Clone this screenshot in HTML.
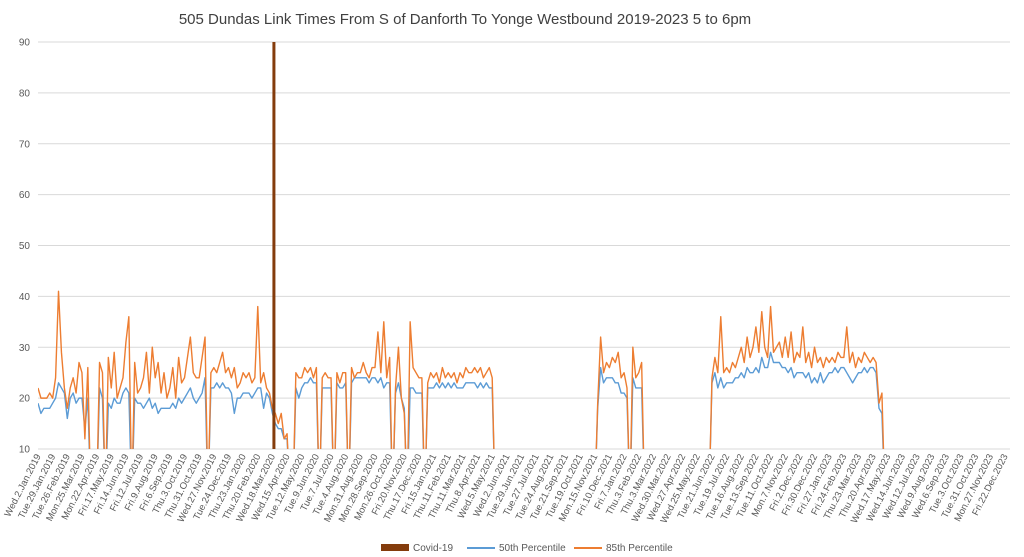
<!DOCTYPE html>
<html><head><meta charset="utf-8"><style>
body{margin:0;background:#fff;}
svg{display:block;font-family:"Liberation Sans",sans-serif;}
</style></head><body>
<svg id="chart" width="1024" height="557" viewBox="0 0 1024 557">
<text x="465" y="24" text-anchor="middle" font-size="15" fill="#404040">505 Dundas Link Times From S of Danforth To Yonge Westbound 2019-2023 5 to 6pm</text>
<defs><clipPath id="plotclip"><rect x="38" y="42" width="972" height="407"/></clipPath></defs>
<g id="grid"></g><g id="yticks"></g><g id="xticks"></g>
<g id="series" clip-path="url(#plotclip)"></g>
<g>
<rect x="381" y="544" width="28" height="7" fill="#843c0c"/>
<text x="413" y="551" font-size="10" fill="#595959">Covid-19</text>
<line x1="467" y1="548" x2="495" y2="548" stroke="#5b9bd5" stroke-width="2"/>
<text x="499" y="551" font-size="10" fill="#595959">50th Percentile</text>
<line x1="574" y1="548" x2="602" y2="548" stroke="#ed7d31" stroke-width="2"/>
<text x="606" y="551" font-size="10" fill="#595959">85th Percentile</text>
</g>
</svg>
<script>
const tickLabels=["Wed.2.Jan.2019","Tue.29.Jan.2019","Tue.26.Feb.2019","Mon.25.Mar.2019","Mon.22.Apr.2019","Fri.17.May.2019","Fri.14.Jun.2019","Fri.12.Jul.2019","Fri.9.Aug.2019","Fri.6.Sep.2019","Thu.3.Oct.2019","Thu.31.Oct.2019","Wed.27.Nov.2019","Tue.24.Dec.2019","Thu.23.Jan.2020","Thu.20.Feb.2020","Wed.18.Mar.2020","Wed.15.Apr.2020","Tue.12.May.2020","Tue.9.Jun.2020","Tue.7.Jul.2020","Tue.4.Aug.2020","Mon.31.Aug.2020","Mon.28.Sep.2020","Mon.26.Oct.2020","Fri.20.Nov.2020","Thu.17.Dec.2020","Fri.15.Jan.2021","Thu.11.Feb.2021","Thu.11.Mar.2021","Thu.8.Apr.2021","Wed.5.May.2021","Wed.2.Jun.2021","Tue.29.Jun.2021","Tue.27.Jul.2021","Tue.24.Aug.2021","Tue.21.Sep.2021","Tue.19.Oct.2021","Mon.15.Nov.2021","Fri.10.Dec.2021","Fri.7.Jan.2022","Thu.3.Feb.2022","Thu.3.Mar.2022","Wed.30.Mar.2022","Wed.27.Apr.2022","Wed.25.May.2022","Tue.21.Jun.2022","Tue.19.Jul.2022","Tue.16.Aug.2022","Tue.13.Sep.2022","Tue.11.Oct.2022","Mon.7.Nov.2022","Fri.2.Dec.2022","Fri.30.Dec.2022","Fri.27.Jan.2023","Fri.24.Feb.2023","Thu.23.Mar.2023","Thu.20.Apr.2023","Wed.17.May.2023","Wed.14.Jun.2023","Wed.12.Jul.2023","Wed.9.Aug.2023","Wed.6.Sep.2023","Tue.3.Oct.2023","Tue.31.Oct.2023","Mon.27.Nov.2023","Fri.22.Dec.2023"];
const yTicks=[10,20,30,40,50,60,70,80,90];
const covidIndex=16;
const p85=[
22,20,20,20,21, 20,24,41,29,22, 18,22,24,21,27, 25,12,26,0,0, 0,27,25,0,28,
22,29,20,22,24, 31,36,0,27,21, 22,24,29,21,30, 24,27,21,25,20, 22,26,20,28,23,
24,28,32,25,24, 24,28,32,0,25, 26,25,27,29,25, 26,24,26,22,23, 25,24,25,23,24,
38,23,25,22,21, 18,17,15,17,12, 13,0,0,25,24, 24,26,25,26,24, 26,0,24,25,24,
24,0,25,23,25, 25,0,26,24,25, 25,27,25,24,26, 26,33,25,35,24, 28,0,22,30,20,
17,0,35,26,25, 24,24,0,23,25, 24,25,23,26,24, 25,24,25,23,25, 24,26,25,25,26,
25,26,24,25,26, 24,0,0,0,0, 0,0,0,0,0, 0,0,0,0,0, 0,0,0,0,0,
0,0,0,0,0, 0,0,0,0,0, 0,0,0,0,0, 0,19,32,25,27, 26,28,27,29,24,
25,22,0,30,24, 25,27,0,0,0, 0,0,0,0,0, 0,0,0,0,0, 0,0,0,0,0,
0,0,0,0,0, 24,28,25,36,25, 26,25,27,26,28, 30,27,32,28,30, 34,29,37,30,28,
38,29,30,31,28, 32,28,33,27,29, 28,34,27,29,26, 30,27,28,26,28, 27,28,27,29,28,
28,34,27,29,26, 28,27,29,28,27, 28,27,19,21,0, 0,0,0,0,0, 0,0,0,0,0,
0,0,0,0,0, 0,0,0,0,0, 0,0,0,0,0, 0,0,0,0,0, 0,0,0,0,0, 0,0,0,0,0, 0];
const p50=[
19,17,18,18,18, 19,20,23,22,21, 16,20,21,19,20, 20,14,20,0,0, 0,22,20,0,19,
18,20,19,19,21, 22,21,0,20,19, 19,18,19,20,18, 19,17,18,18,18, 18,19,18,20,19,
20,21,22,20,19, 20,21,24,0,22, 22,23,22,23,22, 22,21,17,20,20, 21,21,21,20,21,
22,22,18,21,20, 17,15,14,14,12, 12,0,0,22,20, 22,23,23,24,23, 23,0,22,22,22,
22,0,23,22,22, 23,0,23,24,24, 24,24,24,23,24, 24,23,24,22,23, 23,0,21,23,20,
18,0,22,22,21, 21,21,0,22,22, 22,23,22,23,22, 23,22,23,22,22, 22,23,23,23,23,
22,23,22,23,22, 22,0,0,0,0, 0,0,0,0,0, 0,0,0,0,0, 0,0,0,0,0,
0,0,0,0,0, 0,0,0,0,0, 0,0,0,0,0, 0,18,26,23,24, 24,24,23,23,21,
21,20,0,24,22, 22,22,0,0,0, 0,0,0,0,0, 0,0,0,0,0, 0,0,0,0,0,
0,0,0,0,0, 23,25,22,24,22, 23,23,23,24,24, 25,24,26,25,25, 26,25,28,26,26,
29,27,27,27,26, 26,25,26,24,25, 25,25,24,25,23, 24,23,25,23,24, 25,25,26,25,26,
26,25,24,23,24, 25,25,26,25,26, 26,25,18,17,0, 0,0,0,0,0, 0,0,0,0,0,
0,0,0,0,0, 0,0,0,0,0, 0,0,0,0,0, 0,0,0,0,0, 0,0,0,0,0, 0,0,0,0,0, 0];

const NS="http://www.w3.org/2000/svg";
const X0=38,X1=1005,Y0=449,Y1=42,PTS_PER_LABEL=5;
function xLabel(i){return X0+i*(X1-X0)/(tickLabels.length-1);}
function xPt(i){return xLabel(i/PTS_PER_LABEL);}
function yVal(v){return Y0-(v-10)*(Y0-Y1)/80;}
function mk(tag,attrs,parent){const e=document.createElementNS(NS,tag);for(const k in attrs)e.setAttribute(k,attrs[k]);parent.appendChild(e);return e;}
const grid=document.getElementById('grid'),yt=document.getElementById('yticks'),xt=document.getElementById('xticks'),ser=document.getElementById('series');
yTicks.forEach(v=>{
  const l=mk('line',{x1:X0,x2:1010,y1:yVal(v),y2:yVal(v),stroke:'#d9d9d9','stroke-width':1},grid);
  
  
  const t=mk('text',{x:30,y:yVal(v)+3.5,'text-anchor':'end','font-size':10,fill:'#595959'},yt);
  t.textContent=v;
  
  
});
tickLabels.forEach((s,i)=>{
  const x=xLabel(i);
  const t=mk('text',{x:0,y:0,'text-anchor':'end','font-size':9.5,fill:'#595959',transform:`translate(${x+3},${Y0+7}) rotate(-63)`},xt);
  t.textContent=s;
  
  
});
function line(arr,color,name){
  const d=arr.map((v,i)=>(i?'L':'M')+xPt(i).toFixed(2)+','+yVal(v).toFixed(2)).join('');
  const p=mk('path',{d:d,fill:'none',stroke:color,'stroke-width':1.4,'stroke-linejoin':'round'},ser);
  
  
}
line(p50,'#5b9bd5','p50-line');
line(p85,'#ed7d31','p85-line');
const cx=xLabel(covidIndex)+1.5;
const c=mk('rect',{x:cx-1.5,y:yVal(90),width:3,height:yVal(10)-yVal(90),fill:'#843c0c'},ser);


</script>
</body></html>
